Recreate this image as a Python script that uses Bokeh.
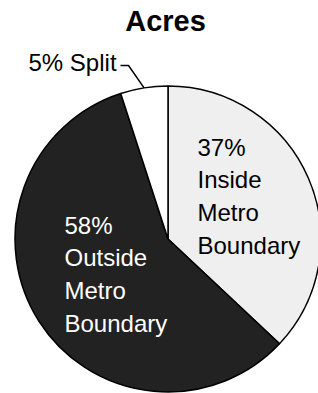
import math
from bokeh.plotting import figure
from bokeh.models import Range1d, ColumnDataSource
from bokeh.core.properties import value
from bokeh.embed import file_html
from bokeh.resources import INLINE

# ---- data ----
categories = ["Inside Metro Boundary", "Outside Metro Boundary", "Split"]
percents = [37, 58, 5]
labels = ["37%\nInside\nMetro\nBoundary", "58%\nOutside\nMetro\nBoundary", "5% Split"]
colors = ["#efefef", "#222222", "#ffffff"]
title_text = "Acres"

# ---- layout (pixel coordinates; y measured downward) ----
W, H = 318, 393
cx, cy, R = 167.5, 238.5, 153

p = figure(width=W, height=H, x_range=Range1d(0, W), y_range=Range1d(-H, 0),
           output_backend="svg", toolbar_location=None, min_border=0)
p.axis.visible = False
p.grid.visible = False
p.outline_line_color = None
p.background_fill_color = "white"
p.border_fill_color = "white"

total = float(sum(percents))
starts, ends = [], []
cum = 0.0
for v in percents:
    a0 = math.pi / 2 - 2 * math.pi * cum / total
    cum += v
    a1 = math.pi / 2 - 2 * math.pi * cum / total
    starts.append(a1)
    ends.append(a0)

src = ColumnDataSource(dict(cat=categories, val=percents, start=starts, end=ends, color=colors))
p.wedge(x=cx, y=-cy, radius=R, start_angle="start", end_angle="end", direction="anticlock",
        fill_color="color", line_color="black", line_width=1.5, source=src)

font = value("Liberation Sans")

# Title
p.text(x=[165], y=[-4], text=[title_text], text_font=font, text_font_size="29px",
       text_font_style="bold", text_align="center", text_baseline="top", text_color="black")

# Inside label
p.text(x=[197], y=[-133], text=[labels[0]], text_font=font, text_font_size="24px",
       text_align="left", text_baseline="top", text_color="black", text_line_height=1.22)
# Outside label
p.text(x=[64], y=[-211], text=[labels[1]], text_font=font, text_font_size="24px",
       text_align="left", text_baseline="top", text_color="white", text_line_height=1.22)
# Split label with leader line
p.text(x=[28], y=[-48], text=[labels[2]], text_font=font, text_font_size="24px",
       text_align="left", text_baseline="top", text_color="black")
mid = math.pi / 2 + 2 * math.pi * (percents[2] / 2) / total
ex, ey = cx + R * math.cos(mid), cy - R * math.sin(mid)
p.line(x=[120, 128, ex], y=[-65, -65, -ey], line_color="black", line_width=1.5)

open("out.html", "w").write(file_html(p, INLINE))
